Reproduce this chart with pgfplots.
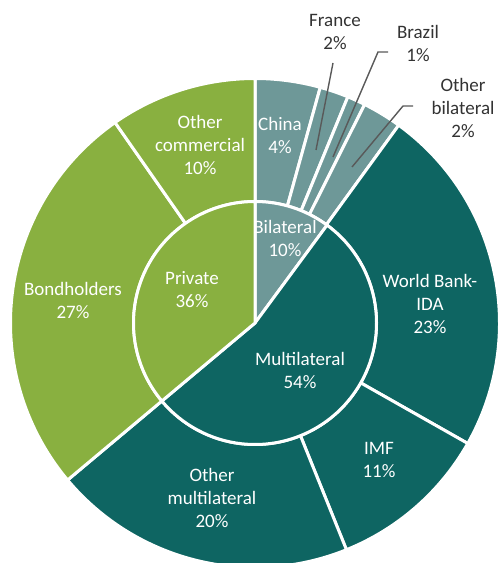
\documentclass[border=0pt]{standalone}
\usepackage{pgfplots}
\pgfplotsset{compat=1.18}
\usepackage{fontspec}
\setmainfont{Carlito}

\definecolor{bilat}{HTML}{6E9898}
\definecolor{multi}{HTML}{0E6562}
\definecolor{priv}{HTML}{89B040}
\definecolor{lead}{HTML}{595959}
\definecolor{txt}{HTML}{333333}

\tikzset{lbl/.style={font=\fontsize{19bp}{23bp}\selectfont, align=center, inner sep=0pt}}

% ring segment: start (%), share (%), inner r, outer r, colour
\newcommand{\seg}[5]{%
  \fill[#5, draw=white, line width=3bp]
    ({#3*cos(90-3.6*(#1))},{#3*sin(90-3.6*(#1))})
    arc[start angle={90-3.6*(#1)}, end angle={90-3.6*(#1+#2)}, radius=#3 bp]
    -- ({#4*cos(90-3.6*(#1+#2))},{#4*sin(90-3.6*(#1+#2))})
    arc[start angle={90-3.6*(#1+#2)}, end angle={90-3.6*(#1)}, radius=#4 bp]
    -- cycle;}
% pie slice: start (%), share (%), r, colour
\newcommand{\slice}[4]{%
  \fill[#4, draw=white, line width=3bp] (0,0)
    -- ({#3*cos(90-3.6*(#1))},{#3*sin(90-3.6*(#1))})
    arc[start angle={90-3.6*(#1)}, end angle={90-3.6*(#1+#2)}, radius=#3 bp]
    -- cycle;}

\begin{document}
\begin{tikzpicture}
\begin{axis}[
    name=pie,
    x=1bp, y=1bp,
    xmin=-255, xmax=243, ymin=-240, ymax=323,
    hide axis, clip=true,
]
% outer ring
\seg{0}{4.3}{121.5}{244.5}{bilat}      % China
\seg{4.3}{1.9}{121.5}{244.5}{bilat}    % France
\seg{6.2}{1.2}{121.5}{244.5}{bilat}    % Brazil
\seg{7.4}{2.6}{121.5}{244.5}{bilat}    % Other bilateral
\seg{10.0}{23.2}{121.5}{244.5}{multi}  % World Bank-IDA
\seg{33.2}{10.7}{121.5}{244.5}{multi}  % IMF
\seg{43.9}{20.0}{121.5}{244.5}{multi}  % Other multilateral
\seg{63.9}{26.4}{121.5}{244.5}{priv}   % Bondholders
\seg{90.3}{9.7}{121.5}{244.5}{priv}    % Other commercial
% inner pie
\slice{0}{10.1}{121.5}{bilat}
\slice{10.1}{53.8}{121.5}{multi}
\slice{63.9}{36.1}{121.5}{priv}

% leader lines
\draw[lead, line width=1.4bp] (78,260) -- (61,173);
\draw[lead, line width=1.4bp] (133,271) -- (123,271) -- (78,166);
\draw[lead, line width=1.4bp] (158,217) -- (148,217) -- (97,156);

% labels
\node[lbl, text=white] at (25,188) {China\\4\%};
\node[lbl, text=white] at (30,85) {Bilateral\\10\%};
\node[lbl, text=white] at (-63,33) {Private\\36\%};
\node[lbl, text=white] at (45,-47) {Multilateral\\54\%};
\node[lbl, text=white] at (-55,178) {Other\\commercial\\10\%};
\node[lbl, text=white] at (-182,23) {Bondholders\\27\%};
\node[lbl, text=white] at (175,19) {World Bank-\\IDA\\23\%};
\node[lbl, text=white] at (124,-137) {IMF\\11\%};
\node[lbl, text=white] at (-43,-175) {Other\\multilateral\\20\%};
\node[lbl, text=txt] at (80,291) {France\\2\%};
\node[lbl, text=txt] at (163,280) {Brazil\\1\%};
\node[lbl, text=txt] at (208,215) {Other\\bilateral\\2\%};
\end{axis}
\pgfresetboundingbox
\path[use as bounding box] (pie.south west) rectangle (pie.north east);
\end{tikzpicture}
\end{document}
